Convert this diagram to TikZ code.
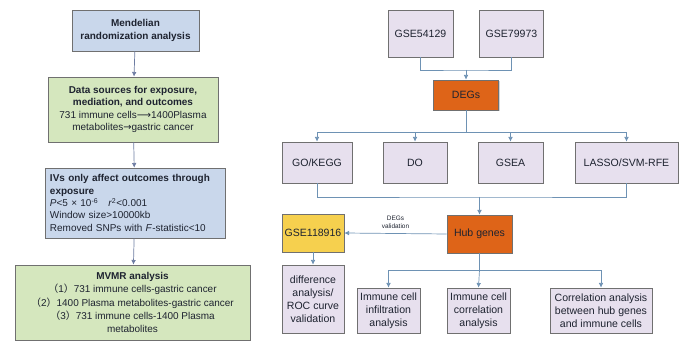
\documentclass[tikz,border=0pt]{standalone}
\usepackage{fontspec}
\setmainfont{Liberation Sans}
\newfontfamily\cjk{Noto Sans CJK SC}
\newfontfamily\symfont{DejaVu Sans}
\usetikzlibrary{arrows.meta,positioning,shadows}
\definecolor{ink}{HTML}{1E2330}
\definecolor{edge}{HTML}{707070}
\definecolor{mrblue}{HTML}{C9D7EB}
\definecolor{mrgreen}{HTML}{D5E7BE}
\definecolor{lilac}{HTML}{E7E0EE}
\definecolor{rust}{HTML}{DE6418}
\definecolor{gold}{HTML}{F6D04E}
\definecolor{wire}{HTML}{6E92B4}
\definecolor{wireleft}{HTML}{6D7CA2}
\newcommand{\fwp}[1]{{\cjk （}#1{\cjk ）}}
\tikzset{
  card/.style={draw=edge,line width=0.6pt,fill=#1,align=center,inner sep=2pt,text=ink,
    font=\fontsize{8.5}{10.5}\selectfont,
    drop shadow={shadow xshift=0.9pt,shadow yshift=-0.9pt,opacity=0.35}},
  sidecard/.style={card=#1,font=\fontsize{9}{11}\selectfont},
  flow/.style={-{Latex[length=1.4mm,width=1.4mm]},line width=0.6pt,draw=wire},
  leftflow/.style={-{Latex[length=1.4mm,width=1.4mm]},line width=0.6pt,draw=wireleft},
  wiring/.style={line width=0.6pt,draw=wire}
}
\begin{document}
\begin{tikzpicture}[x=0.3mm,y=-0.3mm]
  \useasboundingbox (0,0) rectangle (684,344);
  % left column: MR workflow
  \node[card=mrblue,minimum width=38.1mm,minimum height=12.3mm] (mr) at (135.5,30.5)
    {\bfseries Mendelian\\\bfseries randomization analysis};
  \node[card=mrgreen,minimum width=51mm,minimum height=19.5mm] (data) at (133,109.5)
    {{\bfseries Data sources for exposure,}\\{\bfseries mediation, and outcomes}\\
     731 immune cells{\symfont ⟶}1400Plasma\\metabolites{\symfont →}gastric cancer};
  \node[card=mrblue,align=left,text width=51mm,minimum width=54mm,minimum height=21mm] (ivs) at (135,203)
    {{\bfseries IVs only affect outcomes through}\\{\bfseries exposure}\\
     \textit{P}<5 × 10\textsuperscript{-6}\quad \textit{r}\textsuperscript{2}<0.001\\
     Window size>10000kb\\
     Removed SNPs with \textit{F}-statistic<10};
  \node[card=mrgreen,font=\fontsize{8.5}{11.2}\selectfont,minimum width=70.5mm,minimum height=22.5mm] (mvmr) at (132.5,302.5)
    {{\bfseries MVMR analysis}\\
     \fwp{1}731 immune cells-gastric cancer\\
     \fwp{2}1400 Plasma metabolites-gastric cancer\\
     \fwp{3}731 immune cells-1400 Plasma\\metabolites};
  \draw[leftflow] (mr) -- (data);
  \draw[leftflow] (data) -- (ivs);
  \draw[leftflow] (ivs) -- (mvmr);

  % right part: bioinformatics workflow
  \node[sidecard=lilac,minimum width=19.5mm,minimum height=14.1mm] (gseA) at (420.5,33.5) {GSE54129};
  \node[sidecard=lilac,minimum width=19mm,minimum height=14.1mm] (gseB) at (511.5,33.5) {GSE79973};
  \node[sidecard=rust,minimum width=19.5mm,minimum height=9mm] (degs) at (466,95) {DEGs};

  \node[sidecard=lilac,minimum width=21mm,minimum height=12.3mm] (gokegg) at (317,162.5) {GO/KEGG};
  \node[sidecard=lilac,minimum width=19.2mm,minimum height=12.3mm] (do) at (415,162.5) {DO};
  \node[sidecard=lilac,minimum width=19.5mm,minimum height=12.3mm] (gsea) at (510.5,162.5) {GSEA};
  \node[sidecard=lilac,minimum width=30.9mm,minimum height=12.3mm] (lasso) at (626.5,162.5) {LASSO/SVM-RFE};

  \node[sidecard=rust,minimum width=19.5mm,minimum height=11.4mm] (hub) at (479.5,234) {Hub genes};
  \node[sidecard=gold,minimum width=18.6mm,minimum height=11.4mm] (gseC) at (313,233) {GSE118916};
  \node[sidecard=lilac,minimum width=18.6mm,minimum height=20.4mm] (diff) at (313,299)
    {difference\\analysis/\\ROC curve\\validation};

  \node[sidecard=lilac,minimum width=18.9mm,minimum height=13.5mm] (infil) at (388.5,310.5)
    {Immune cell\\infiltration\\analysis};
  \node[sidecard=lilac,minimum width=18.9mm,minimum height=13.5mm] (corr) at (478.5,310.5)
    {Immune cell\\correlation\\analysis};
  \node[sidecard=lilac,minimum width=30.6mm,minimum height=13.5mm] (corrhub) at (601,310.5)
    {Correlation analysis\\between hub genes\\and immune cells};

  % junctions
  \coordinate (joinA) at (466,70);
  \coordinate (joinB) at (466,132);
  \coordinate (joinC) at (479.5,197);
  \coordinate (joinD) at (479.5,270);

  \draw[wiring] (gseA.south) |- (joinA) -| (gseB.south);
  \draw[flow] (joinA) -- (degs.north);
  \draw[wiring] (degs.south) -- (joinB);
  \draw[flow] (joinB) -| (gokegg.north);
  \draw[flow] (joinB) -| (do.north);
  \draw[flow] (joinB) -| (gsea.north);
  \draw[flow] (joinB) -| (lasso.north);
  \draw[wiring] (gokegg.south) |- (joinC) -| (lasso.south);
  \draw[flow] (joinC) -- (hub.north);
  \draw[flow] (hub.west) -- node[above=1pt,font=\fontsize{5.5}{6}\selectfont,align=center,text=ink] {DEGs\\validation} (gseC.east);
  \draw[flow] (gseC.south) -- (diff.north);
  \draw[wiring] (hub.south) -- (joinD);
  \draw[flow] (joinD) -| (infil.north);
  \draw[flow] (joinD) -- (corr.north);
  \draw[flow] (joinD) -| (corrhub.north);
\end{tikzpicture}
\end{document}
